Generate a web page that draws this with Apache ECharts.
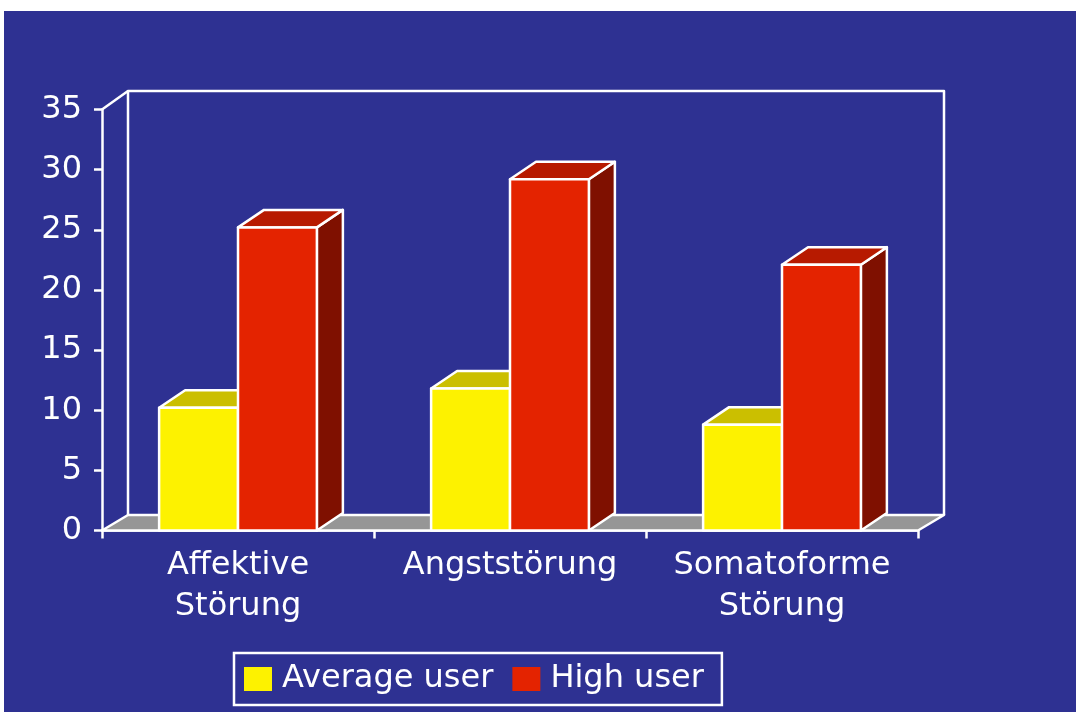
<!DOCTYPE html>
<html><head><meta charset="utf-8">
<script src="https://cdn.jsdelivr.net/npm/echarts@6/dist/echarts.min.js"></script>
<style>
html,body{margin:0;padding:0;background:#fff;width:1076px;height:712px;overflow:hidden}
#c{position:absolute;left:4px;top:11px;width:1072px;height:701px;}
</style>
</head><body><div id="c"></div>
<script>
// ---- data ----
const categories = ['Affektive\nStörung', 'Angststörung', 'Somatoforme\nStörung'];
const seriesNames = ['Average user', 'High user'];
const averageUser = [10.2, 11.8, 8.8];
const highUser = [25.2, 29.2, 22.1];
const yMin = 0, yMax = 35, yInterval = 5;

// ---- style ----
const NAVY = '#2E3192';
const FONT = 'DejaVu Sans';
const FS = 32;
const DX = 26, DY = -17.5;          // bar depth offset
const DY_TOP = -18.5, DY_BOT = -15.5; // wall depth offset
const BAR_RATIO = 0.29;
const LW = 2.5;
const yellow = {front: '#FDF200', top: '#CBBF00', side: '#9A9000'};
const red = {front: '#E42300', top: '#B71A00', side: '#7F1000'};

function boxRenderer(side, colors) {
  return function (params, api) {
    const i = api.value(0), v = api.value(1);
    const top = api.coord([i, v]);
    const base = api.coord([i, 0]);
    const band = api.size([1, 0])[0];
    const w = band * BAR_RATIO;
    const x0 = side < 0 ? top[0] - w : top[0];
    const x1 = x0 + w, yt = top[1], yb = base[1];
    const st = {stroke: '#fff', lineWidth: LW, lineJoin: 'round'};
    return {
      type: 'group',
      children: [
        {type: 'polygon', shape: {points: [[x1, yt], [x1 + DX, yt + DY], [x1 + DX, yb + DY], [x1, yb]]},
          style: Object.assign({fill: colors.side}, st)},
        {type: 'polygon', shape: {points: [[x0, yt], [x1, yt], [x1 + DX, yt + DY], [x0 + DX, yt + DY]]},
          style: Object.assign({fill: colors.top}, st)},
        {type: 'rect', shape: {x: x0, y: yt, width: w, height: yb - yt},
          style: Object.assign({fill: colors.front}, st)}
      ]
    };
  };
}

function frameRenderer(params, api) {
  const band = api.size([1, 0])[0];
  const xl = api.coord([0, yMin])[0] - band / 2;
  const xr = api.coord([categories.length - 1, yMin])[0] + band / 2;
  const y0 = api.coord([0, yMin])[1];
  const y1 = api.coord([0, yMax])[1];
  const st = {stroke: '#fff', lineWidth: LW, lineJoin: 'round', fill: null};
  return {
    type: 'group',
    children: [
      {type: 'polyline', shape: {points: [[xl + DX, y0 + DY_BOT], [xl + DX, y1 + DY_TOP], [xr + DX, y1 + DY_TOP], [xr + DX, y0 + DY_BOT]]},
        style: st},
      {type: 'polyline', shape: {points: [[xl, y1], [xl + DX, y1 + DY_TOP]]}, style: st},
      {type: 'polygon', shape: {points: [[xl, y0], [xr, y0], [xr + DX, y0 + DY_BOT], [xl + DX, y0 + DY_BOT]]},
        style: {fill: '#969696', stroke: '#fff', lineWidth: LW, lineJoin: 'round'}}
    ]
  };
}

const chart = echarts.init(document.getElementById('c'), null, {renderer: 'canvas'});
chart.setOption({
  backgroundColor: NAVY,
  animation: false,
  grid: {left: 98, top: 98.5, width: 816, height: 421},
  legend: {
    data: seriesNames,
    left: 230, top: 642,
    padding: [7, 18, 7, 10],
    borderColor: '#fff', borderWidth: 2.5,
    itemWidth: 28, itemHeight: 24, itemGap: 19,
    icon: 'rect',
    textStyle: {color: '#fff', fontSize: FS, fontFamily: FONT, lineHeight: 38, padding: [0, 0, 0, 5]}
  },
  xAxis: {
    type: 'category', data: categories,
    axisLine: {lineStyle: {color: '#fff', width: LW}},
    axisTick: {show: true, length: 8, alignWithLabel: false, lineStyle: {color: '#fff', width: LW}},
    axisLabel: {color: '#fff', fontSize: FS, fontFamily: FONT, lineHeight: 41, margin: 15, interval: 0},
    splitLine: {show: false}
  },
  yAxis: {
    type: 'value', min: yMin, max: yMax, interval: yInterval,
    axisLine: {show: true, lineStyle: {color: '#fff', width: LW}},
    axisTick: {show: true, length: 8, lineStyle: {color: '#fff', width: LW}},
    axisLabel: {color: '#fff', fontSize: FS, fontFamily: FONT, margin: 20},
    splitLine: {show: false}
  },
  series: [
    {type: 'custom', name: '__frame', z: 1, silent: true, renderItem: frameRenderer,
      data: [[0, yMin]], encode: {x: 0, y: 1}},
    {type: 'custom', name: seriesNames[0], z: 2, renderItem: boxRenderer(-1, yellow),
      itemStyle: {color: yellow.front},
      data: averageUser.map((v, i) => [i, v]), encode: {x: 0, y: 1}},
    {type: 'custom', name: seriesNames[1], z: 3, renderItem: boxRenderer(1, red),
      itemStyle: {color: red.front},
      data: highUser.map((v, i) => [i, v]), encode: {x: 0, y: 1}}
  ]
});
</script>
</body></html>
